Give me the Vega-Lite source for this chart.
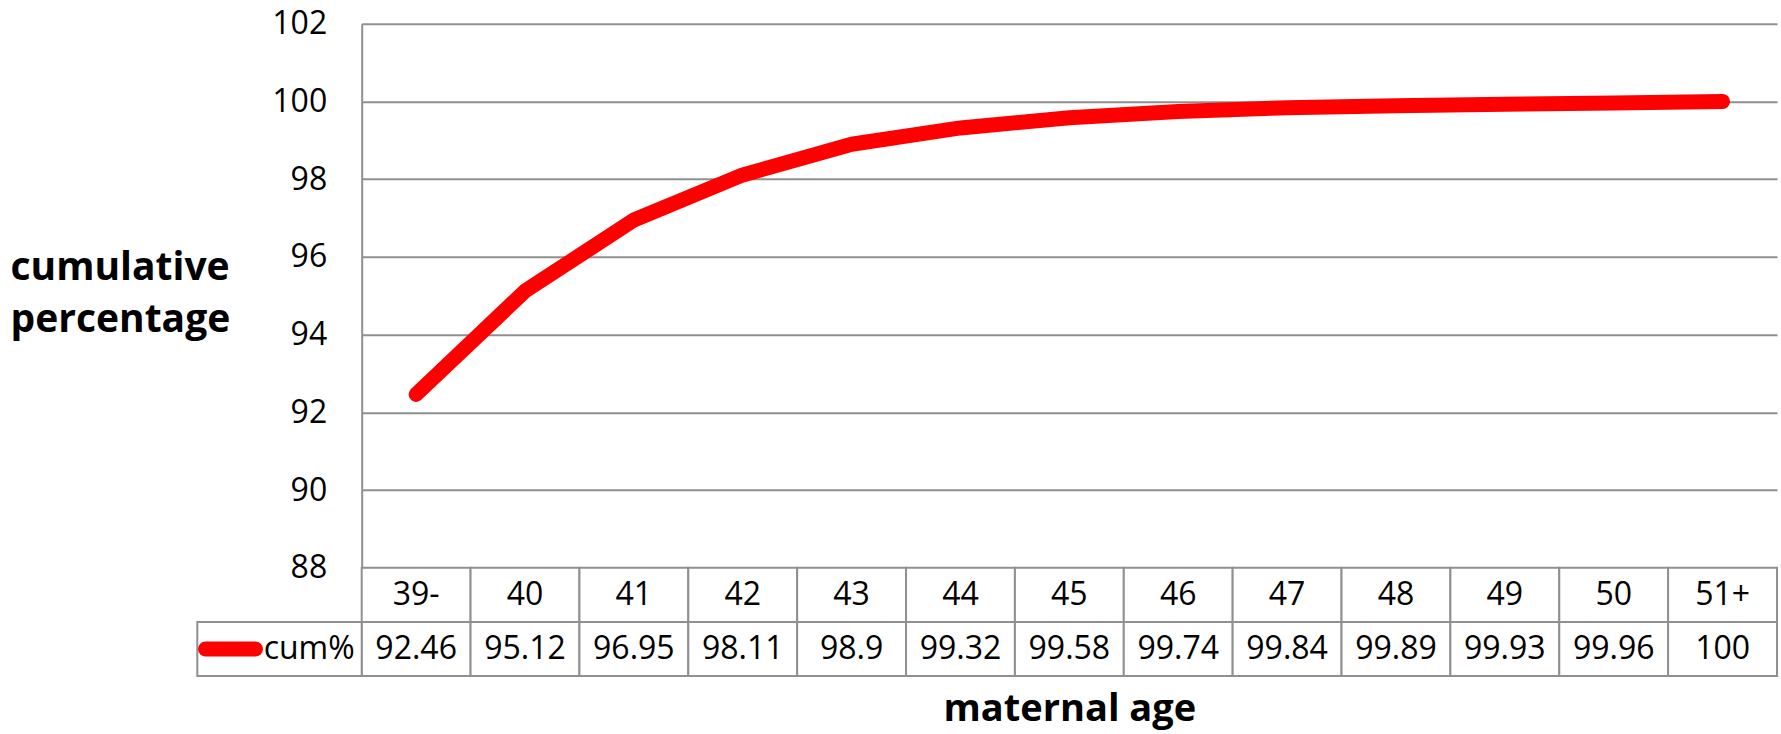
{
  "$schema": "https://vega.github.io/schema/vega-lite/v6.json",
  "width": 1415.3,
  "height": 543.9,
  "autosize": {"type": "none"},
  "padding": {"left": 361.7, "top": 23.8, "right": 4, "bottom": 166.3},
  "background": "white",
  "config": {"view": {"stroke": null}, "font": "Open Sans"},
  "datasets": {
    "cum": [
      {"age": "39-", "cum": 92.46},
      {"age": "40", "cum": 95.12},
      {"age": "41", "cum": 96.95},
      {"age": "42", "cum": 98.11},
      {"age": "43", "cum": 98.9},
      {"age": "44", "cum": 99.32},
      {"age": "45", "cum": 99.58},
      {"age": "46", "cum": 99.74},
      {"age": "47", "cum": 99.84},
      {"age": "48", "cum": 99.89},
      {"age": "49", "cum": 99.93},
      {"age": "50", "cum": 99.96},
      {"age": "51+", "cum": 100}
    ],
    "series": [{"series": "cum%"}]
  },
  "resolve": {"scale": {"x": "independent", "y": "independent"}},
  "layer": [
    {
      "data": {"name": "cum"},
      "mark": {"type": "rect", "fill": "white", "stroke": "#909090", "strokeWidth": 2},
      "encoding": {
        "x": {"field": "age", "type": "nominal", "axis": null,
              "scale": {"type": "band", "domain": ["39-","40","41","42","43","44","45","46","47","48","49","50","51+"], "paddingInner": 0, "paddingOuter": 0}},
        "y": {"datum": "age", "type": "nominal", "axis": null,
              "scale": {"type": "band", "domain": ["age", "cum%"], "range": [543.9, 652.3], "paddingInner": 0, "paddingOuter": 0}}
      }
    },
    {
      "data": {"name": "cum"},
      "mark": {"type": "rect", "fill": "white", "stroke": "#909090", "strokeWidth": 2},
      "encoding": {
        "x": {"field": "age", "type": "nominal", "axis": null,
              "scale": {"type": "band", "domain": ["39-","40","41","42","43","44","45","46","47","48","49","50","51+"], "paddingInner": 0, "paddingOuter": 0}},
        "y": {"datum": "cum%", "type": "nominal", "axis": null,
              "scale": {"type": "band", "domain": ["age", "cum%"], "range": [543.9, 652.3], "paddingInner": 0, "paddingOuter": 0}}
      }
    },
    {
      "data": {"name": "cum"},
      "mark": {"type": "text", "font": "Open Sans", "fontSize": 32, "color": "black", "baseline": "middle", "align": "center"},
      "encoding": {
        "x": {"field": "age", "type": "nominal", "axis": null, "bandPosition": 0.5,
              "scale": {"type": "band", "domain": ["39-","40","41","42","43","44","45","46","47","48","49","50","51+"], "paddingInner": 0, "paddingOuter": 0}},
        "y": {"datum": "age", "type": "nominal", "axis": null, "bandPosition": 0.5,
              "scale": {"type": "band", "domain": ["age", "cum%"], "range": [543.9, 652.3], "paddingInner": 0, "paddingOuter": 0}},
        "text": {"field": "age", "type": "nominal"}
      }
    },
    {
      "data": {"name": "cum"},
      "mark": {"type": "text", "font": "Open Sans", "fontSize": 32, "color": "black", "baseline": "middle", "align": "center"},
      "encoding": {
        "x": {"field": "age", "type": "nominal", "axis": null, "bandPosition": 0.5,
              "scale": {"type": "band", "domain": ["39-","40","41","42","43","44","45","46","47","48","49","50","51+"], "paddingInner": 0, "paddingOuter": 0}},
        "y": {"datum": "cum%", "type": "nominal", "axis": null, "bandPosition": 0.5,
              "scale": {"type": "band", "domain": ["age", "cum%"], "range": [543.9, 652.3], "paddingInner": 0, "paddingOuter": 0}},
        "text": {"field": "cum", "type": "nominal"}
      }
    },
    {
      "data": {"name": "series"},
      "mark": {"type": "rect", "fill": "white", "stroke": "#909090", "strokeWidth": 2},
      "encoding": {
        "x": {"field": "series", "type": "nominal", "axis": null,
              "scale": {"type": "band", "domain": ["cum%"], "range": [-164.4, 0], "paddingInner": 0, "paddingOuter": 0}},
        "y": {"datum": "cum%", "type": "nominal", "axis": null,
              "scale": {"type": "band", "domain": ["age", "cum%"], "range": [543.9, 652.3], "paddingInner": 0, "paddingOuter": 0}}
      }
    },
    {
      "data": {"name": "series"},
      "mark": {"type": "point", "shape": "stroke", "size": 2500, "filled": false, "color": "#ff0000", "opacity": 1, "strokeWidth": 15, "strokeCap": "round"},
      "encoding": {
        "x": {"field": "series", "type": "nominal", "axis": null, "bandPosition": 0.202,
              "scale": {"type": "band", "domain": ["cum%"], "range": [-164.4, 0], "paddingInner": 0, "paddingOuter": 0}},
        "y": {"datum": "cum%", "type": "nominal", "axis": null, "bandPosition": 0.5,
              "scale": {"type": "band", "domain": ["age", "cum%"], "range": [543.9, 652.3], "paddingInner": 0, "paddingOuter": 0}}
      }
    },
    {
      "data": {"name": "series"},
      "mark": {"type": "text", "font": "Open Sans", "fontSize": 32, "color": "black", "baseline": "middle", "align": "right", "dx": -7},
      "encoding": {
        "x": {"field": "series", "type": "nominal", "axis": null, "bandPosition": 1,
              "scale": {"type": "band", "domain": ["cum%"], "range": [-164.4, 0], "paddingInner": 0, "paddingOuter": 0}},
        "y": {"datum": "cum%", "type": "nominal", "axis": null, "bandPosition": 0.5,
              "scale": {"type": "band", "domain": ["age", "cum%"], "range": [543.9, 652.3], "paddingInner": 0, "paddingOuter": 0}},
        "text": {"field": "series", "type": "nominal"}
      }
    },
    {
      "data": {"name": "cum"},
      "mark": {"type": "line", "color": "#ff0000", "strokeWidth": 15, "strokeCap": "round", "strokeJoin": "round"},
      "encoding": {
        "x": {"field": "age", "type": "nominal", "bandPosition": 0.5,
              "scale": {"type": "band", "domain": ["39-","40","41","42","43","44","45","46","47","48","49","50","51+"], "paddingInner": 0, "paddingOuter": 0},
              "axis": {"labels": false, "ticks": false, "domain": false, "grid": false,
                       "title": "maternal age", "titleFont": "Open Sans", "titleFontSize": 38, "titleFontWeight": "bold",
                       "titleColor": "black", "titleY": 153, "titleBaseline": "alphabetic"}},
        "y": {"field": "cum", "type": "quantitative",
              "scale": {"domain": [88, 102], "nice": false, "zero": false},
              "axis": {"values": [88, 90, 92, 94, 96, 98, 100, 102], "grid": true, "gridColor": "#909090", "gridWidth": 2,
                       "domainColor": "#909090", "domainWidth": 2, "ticks": false, "labelPadding": 35,
                       "labelFont": "Open Sans", "labelFontSize": 32, "labelColor": "black",
                       "title": ["cumulative", "percentage"], "titleAngle": 0, "titleAlign": "left", "titleBaseline": "alphabetic",
                       "titleX": -351.7, "titleY": 255.2, "titleFont": "Open Sans", "titleFontSize": 39, "titleFontWeight": "bold",
                       "titleLineHeight": 52.7, "titleColor": "black"}}
      }
    }
  ]
}
